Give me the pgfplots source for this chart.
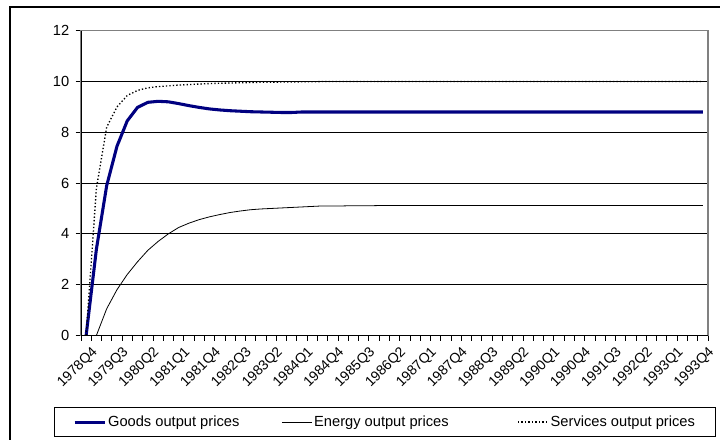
\documentclass[border=0pt]{standalone}
\usepackage{fontspec}
\setmainfont{Liberation Sans}
\usepackage{pgfplots}
\pgfplotsset{compat=1.18}
\definecolor{goodsblue}{RGB}{0,0,128}

\begin{document}
\fontsize{11}{13}\selectfont
\begin{tikzpicture}
% picture frame: 720x439 px, 1px = 0.75pt, axis box lower-left at (0,0)
\useasboundingbox (-60.75pt,-77.7pt) rectangle (479.25pt,251.55pt);
\draw[line width=1.6pt] (-53.25pt,-90pt) -- (-53.25pt,246.3pt) -- (500pt,246.3pt);
\begin{axis}[
    at={(0,0)}, anchor=south west,
    scale only axis,
    width=470.25pt, height=228.5pt,
    xmin=-0.5, xmax=60.5,
    ymin=0, ymax=12,
    ytick={0,2,...,12},
    xtick={0,3,...,60},
    xticklabels={1978Q4,1979Q3,1980Q2,1981Q1,1981Q4,1982Q3,1983Q2,1984Q1,1984Q4,1985Q3,1986Q2,1987Q1,1987Q4,1988Q3,1989Q2,1990Q1,1990Q4,1991Q3,1992Q2,1993Q1,1993Q4},
    minor xtick={-0.5,0.5,...,60.5},
    major x tick style={draw=none},
    minor x tick style={black, line width=0.6pt},
    minor tick length=4pt,
    major tick length=4pt,
    xtick pos=bottom, ytick pos=left,
    tick align=outside,
    y tick style={black, line width=0.6pt},
    ymajorgrids,
    major grid style={black, line width=0.6pt},
    axis line style={gray, line width=0.8pt},
    /pgf/number format/assume math mode=true,
    yticklabel style={xshift=-1pt},
    xticklabel style={font=\fontsize{10.5}{12}\selectfont, rotate=45, anchor=north east, xshift=1pt, yshift=-4pt, inner sep=1pt},
    legend columns=3,
    legend style={at={(-0.0431,-0.236)}, anchor=north west,
        draw=black, line width=0.6pt,
        inner xsep=14pt, inner ysep=4.5pt,
        nodes={inner sep=1.5pt},
        /tikz/every even column/.append style={column sep=30pt}},
    legend image code/.code={\draw[#1] (0pt,0pt) -- (22.5pt,0pt);},
]
\addplot[goodsblue, line width=2.3pt] coordinates {
(0,0) (1,3.4) (2,5.9) (3,7.45) (4,8.45) (5,8.98) (6,9.18) (7,9.22) (8,9.2) (9,9.13)
(10,9.05) (11,8.98) (12,8.92) (13,8.88) (14,8.85) (15,8.83) (16,8.81) (17,8.8) (18,8.79) (19,8.78)
(20,8.78) (21,8.8) (22,8.8) (23,8.8) (24,8.8) (25,8.8) (26,8.8) (27,8.8) (28,8.8) (29,8.8)
(30,8.8) (31,8.8) (32,8.8) (33,8.8) (34,8.8) (35,8.8) (36,8.8) (37,8.8) (38,8.8) (39,8.8)
(40,8.8) (41,8.8) (42,8.8) (43,8.8) (44,8.8) (45,8.8) (46,8.8) (47,8.8) (48,8.8) (49,8.8)
(50,8.8) (51,8.8) (52,8.8) (53,8.8) (54,8.8) (55,8.8) (56,8.8) (57,8.8) (58,8.8) (59,8.8) (60,8.8)
};
\addlegendentry{Goods output prices}
\addplot[black, line width=0.6pt] coordinates {
(0,0) (1,0) (2,1.05) (3,1.8) (4,2.4) (5,2.9) (6,3.35) (7,3.7) (8,4.0) (9,4.25)
(10,4.42) (11,4.56) (12,4.67) (13,4.76) (14,4.84) (15,4.9) (16,4.95) (17,4.98) (18,5.0) (19,5.02)
(20,5.04) (21,5.06) (22,5.08) (23,5.1) (24,5.1) (25,5.1) (26,5.11) (27,5.11) (28,5.11) (29,5.12)
(30,5.12) (31,5.12) (32,5.12) (33,5.12) (34,5.12) (35,5.12) (36,5.12) (37,5.12) (38,5.12) (39,5.12)
(40,5.12) (41,5.12) (42,5.12) (43,5.12) (44,5.12) (45,5.12) (46,5.12) (47,5.12) (48,5.12) (49,5.12)
(50,5.12) (51,5.12) (52,5.12) (53,5.12) (54,5.12) (55,5.12) (56,5.12) (57,5.12) (58,5.12) (59,5.12) (60,5.12)
};
\addlegendentry{Energy output prices\hspace*{20pt}}
\addplot[black, line width=1pt, dash pattern=on 1pt off 1.6pt] coordinates {
(0,0) (1,5.8) (2,8.2) (3,9.0) (4,9.45) (5,9.65) (6,9.75) (7,9.8) (8,9.83) (9,9.86)
(10,9.88) (11,9.9) (12,9.92) (13,9.93) (14,9.94) (15,9.95) (16,9.96) (17,9.97) (18,9.97) (19,9.98)
(20,9.98) (21,9.99) (22,9.99) (23,10) (24,10) (25,10) (26,10) (27,10) (28,10) (29,10)
(30,10) (31,10) (32,10) (33,10) (34,10) (35,10) (36,10) (37,10) (38,10) (39,10)
(40,10) (41,10) (42,10) (43,10) (44,10) (45,10) (46,10) (47,10) (48,10) (49,10)
(50,10) (51,10) (52,10) (53,10) (54,10) (55,10) (56,10) (57,10) (58,10) (59,10) (60,10)
};
\addlegendentry{Services output prices}
\draw[black, line width=0.8pt] (rel axis cs:0,1) -- (rel axis cs:0,0) -- (rel axis cs:1,0);
\end{axis}
\end{tikzpicture}
\end{document}
